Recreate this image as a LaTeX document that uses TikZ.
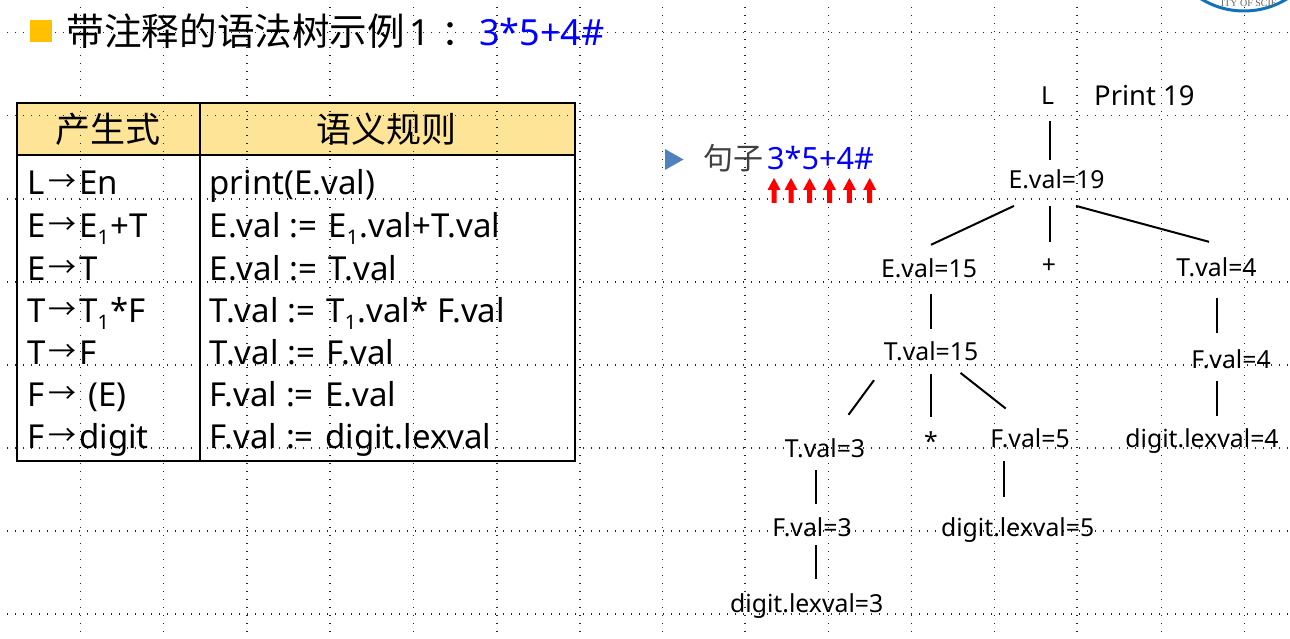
\documentclass[tikz,border=0pt]{standalone}
\usepackage{fontspec}
\setmainfont{Noto Sans}
\newfontfamily\cjk{Noto Sans CJK SC}
\newfontfamily\logofont{Liberation Serif}
\newcommand{\fs}[1]{\fontsize{#1}{#1}\selectfont}
\newcommand{\subone}{\raisebox{-7pt}{\fs{20}1}\hspace{1.5pt}}
\newcommand{\prodarrow}{\makebox[31pt][l]{\cjk\fs{28}\raisebox{3pt}{→}}}
\newcommand{\prodrow}[2]{\makebox[21pt][l]{#1}\prodarrow #2}
\newcommand{\assign}{:=\hspace{11.5pt}}
\definecolor{headerfill}{HTML}{FEE497}
\definecolor{squarecolor}{HTML}{FFC000}
\definecolor{tricolor}{HTML}{4F81BD}
\definecolor{sentgrey}{HTML}{404040}
\definecolor{logoblue}{HTML}{1172B8}
\tikzset{
  griddots/.style={line width=1.4pt,dash pattern=on 1.4pt off 6.6pt,black!85},
  tablerule/.style={line width=2pt,black},
  prodtext/.style={anchor=base west,inner sep=0pt,font=\fs{33}},
  ruletext/.style={anchor=base west,inner sep=0pt,font=\fs{33}},
  headtext/.style={anchor=base,inner sep=0pt,font=\cjk\fs{35}},
  treelabel/.style={anchor=base,inner sep=0pt,text height=18pt,text depth=5pt,font=\fs{24.8}},
  treeedge/.style={line width=2pt,black},
  redup/.style={fill=red,draw=none}
}
\begin{document}
\begin{tikzpicture}[x=1pt,y=-1pt]
\useasboundingbox (0,0) rectangle (1290,639);
\clip (0,0) rectangle (1290,639);
\fill[white] (0,0) rectangle (1290,639);
% table header fill
\fill[headerfill] (17,103) rectangle (575,155);
% background dotted grid
\foreach \yy in {32.5,115.3,199,282,365,448,531,614}
  \draw[griddots] (7,\yy) -- (1290,\yy);
\foreach \xx in {80.4,163.7,247,330,413.5,497,580,662.4,745,828.6,911.5,994.5,1077,1161.5,1244.5}
  \draw[griddots] (\xx,7) -- (\xx,632);
% logo fragment
\draw[logoblue,line width=3pt] (1244,-71) circle (82);
\node[anchor=base,inner sep=0pt,font=\logofont\fs{10},text=black!60] (logotext) at (1249,7) {ITY OF SCIE};
% title
\fill[squarecolor] (30,20) rectangle (52,42);
\node[anchor=base west,inner sep=0pt,font=\cjk\fs{37.6}] (title) at (66.5,46) {带注释的语法树示例};
\node[anchor=base west,inner sep=0pt,font=\fs{36}] (titleone) at (409,46) {1};
\node[anchor=base west,inner sep=0pt,font=\cjk\fs{36}] (titlecolon) at (441,46) {：};
\node[anchor=base west,inner sep=0pt,font=\fs{36},text=blue] (titleexpr) at (479,46) {3*5+4\#};
% table
\draw[tablerule] (17,103) rectangle (575,461);
\draw[tablerule] (17,155) -- (575,155);
\draw[tablerule] (200,103) -- (200,461);
\node[headtext] (h1) at (107.5,142.5) {产生式};
\node[headtext] (h2) at (386,142.5) {语义规则};
\node[prodtext] (p1) at (27,195) {\prodrow{L}{En}};
\node[prodtext] (p2) at (27,237) {\prodrow{E}{E\subone{}+T}};
\node[prodtext] (p3) at (27,280) {\prodrow{E}{T}};
\node[prodtext] (p4) at (27,322) {\prodrow{T}{T\subone{}*F}};
\node[prodtext] (p5) at (27,364) {\prodrow{T}{F}};
\node[prodtext] (p6) at (27,406) {\prodrow{F}{\hspace{9pt}(E)}};
\node[prodtext] (p7) at (27,448) {\prodrow{F}{digit}};
\node[ruletext] (r1) at (209.5,195) {print(E.val)};
\node[ruletext] (r2) at (209.5,237) {E.val \assign E\subone{}.val+T.val};
\node[ruletext] (r3) at (209.5,280) {E.val \assign T.val};
\node[ruletext] (r4) at (209.5,322) {T.val \assign T\subone{}.val* F.val};
\node[ruletext] (r5) at (209.5,364) {T.val \assign F.val};
\node[ruletext] (r6) at (209.5,406) {F.val \assign E.val};
\node[ruletext] (r7) at (209.5,448) {F.val \assign digit.lexval};
% sentence
\fill[tricolor] (665,149) -- (683.5,159.5) -- (665,170) -- cycle;
\node[anchor=base west,inner sep=0pt,font=\cjk\fs{30},text=sentgrey] (sent) at (703.5,170) {句子};
\node[anchor=base west,inner sep=0pt,font=\fs{30.6},text=blue] (sentexpr) at (767,170) {3*5+4\#};
\foreach \ax in {774,791,809.6,829.5,849.4,869.7}
  \fill[redup] (\ax-2.5,203) -- (\ax-2.5,190) -- (\ax-6.5,190) -- (\ax,178) -- (\ax+6.5,190) -- (\ax+2.5,190) -- (\ax+2.5,203) -- cycle;
% tree labels
\node[treelabel] (L) at (1047.5,105) {L};
\node[anchor=base west,inner sep=0pt,font=\fs{27.4}] (print) at (1094,106) {Print 19};
\node[treelabel] (E19) at (1056.5,189) {E.val=19};
\node[treelabel] (E15) at (929,277) {E.val=15};
\node[treelabel] (plus) at (1049,273.5) {+};
\node[treelabel] (T4) at (1216.5,276) {T.val=4};
\node[treelabel] (T15) at (931,360) {T.val=15};
\node[treelabel] (F4) at (1231,368) {F.val=4};
\node[treelabel] (T3) at (825,457) {T.val=3};
\node[treelabel] (star) at (931,450) {*};
\node[treelabel] (F5) at (1030,447) {F.val=5};
\node[treelabel] (d4) at (1202,447) {digit.lexval=4};
\node[treelabel] (F3) at (812,536) {F.val=3};
\node[treelabel] (d5) at (1017.6,536) {digit.lexval=5};
\node[treelabel] (d3) at (806.7,612.7) {digit.lexval=3};
% tree edges
\draw[treeedge] ([shift={(2.5,11)}]L.south) -- ([shift={(-6.5,-11)}]E19.north);
\draw[treeedge] ([shift={(-42.5,11.7)}]E19.south) -- ([shift={(2,-14)}]E15.north);
\draw[treeedge] ([shift={(-6.5,12)}]E19.south) -- ([shift={(1,-13.5)}]plus.north);
\draw[treeedge] ([shift={(19.5,11.7)}]E19.south) -- ([shift={(-7.5,-16)}]T4.north);
\draw[treeedge] ([shift={(2,12)}]E15.south) -- ([shift={(0,-13)}]T15.north);
\draw[treeedge] ([shift={(0.2,17)}]T4.south) -- ([shift={(-14.3,-17.3)}]F4.north);
\draw[treeedge] ([shift={(-57,15)}]T15.south) -- ([shift={(23.5,-24)}]T3.north);
\draw[treeedge] ([shift={(0,9)}]T15.south) -- ([shift={(0,-15.3)}]star.north);
\draw[treeedge] ([shift={(29.5,7.7)}]T15.south) -- ([shift={(-24.3,-20.3)}]F5.north);
\draw[treeedge] ([shift={(-14.3,8)}]F4.south) -- ([shift={(14.7,-13)}]d4.north);
\draw[treeedge] ([shift={(-9,8)}]T3.south) -- ([shift={(4,-14)}]F3.north);
\draw[treeedge] ([shift={(-26,9)}]F5.south) -- ([shift={(-13.6,-21.3)}]d5.north);
\draw[treeedge] ([shift={(4,4)}]F3.south) -- ([shift={(9.3,-15.7)}]d3.north);
\end{tikzpicture}
\end{document}
